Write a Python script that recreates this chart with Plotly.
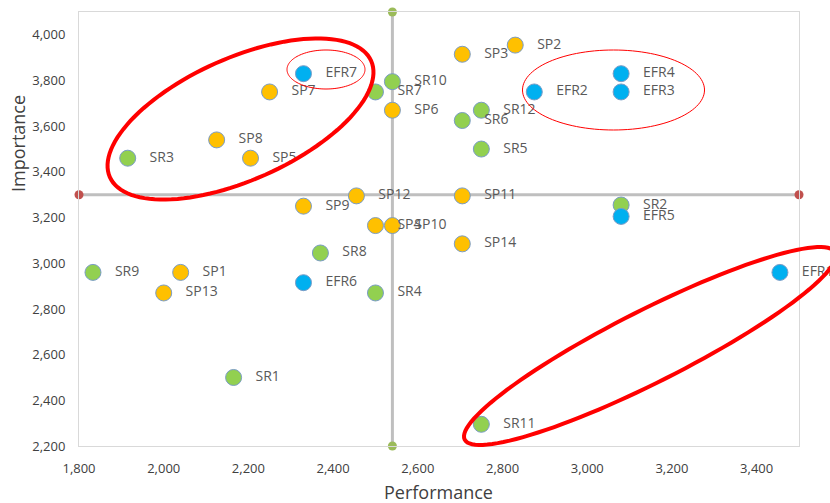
import math
import plotly.graph_objects as go

# ---- data -------------------------------------------------------------
sp_names = ["SP1", "SP2", "SP3", "SP4", "SP5", "SP6", "SP7", "SP8", "SP9",
            "SP10", "SP11", "SP12", "SP13", "SP14"]
sp_perf = [2040, 2830, 2705, 2500, 2205, 2540, 2250, 2125, 2330,
           2540, 2705, 2455, 2000, 2705]
sp_imp = [2960, 3955, 3915, 3165, 3460, 3670, 3750, 3540, 3250,
          3165, 3295, 3295, 2870, 3085]

sr_names = ["SR1", "SR2", "SR3", "SR4", "SR5", "SR6", "SR7", "SR8", "SR9",
            "SR10", "SR11", "SR12"]
sr_perf = [2165, 3080, 1915, 2500, 2750, 2705, 2500, 2370, 1833,
           2540, 2750, 2750]
sr_imp = [2500, 3255, 3460, 2870, 3500, 3625, 3750, 3045, 2960,
          3795, 2295, 3670]

efr_names = ["EFR1", "EFR2", "EFR3", "EFR4", "EFR5", "EFR6", "EFR7"]
efr_perf = [3455, 2875, 3080, 3080, 3080, 2330, 2330]
efr_imp = [2960, 3750, 3750, 3830, 3205, 2915, 3830]

# quadrant split and axis extents
perf_split = 2540
imp_split = 3300
perf_range = [1800, 3500]
imp_range = [2200, 4100]

x_ticks = [1800, 2000, 2200, 2400, 2600, 2800, 3000, 3200, 3400]
y_ticks = [2200, 2400, 2600, 2800, 3000, 3200, 3400, 3600, 3800, 4000]

# ---- layout geometry ---------------------------------------------------
W, H = 830, 503
ML, MR, MT, MB = 79, 31, 12, 57
PW, PH = W - ML - MR, H - MT - MB

FONT = "Open Sans, Noto Sans, sans-serif"
LABEL_COLOR = "#595959"

fig = go.Figure()

# quadrant dividers
fig.add_trace(go.Scatter(
    x=perf_range, y=[imp_split, imp_split], mode="lines+markers",
    line=dict(color="#BFBFBF", width=3),
    marker=dict(color="#C0504D", size=9),
    cliponaxis=False, hoverinfo="skip", showlegend=False))
fig.add_trace(go.Scatter(
    x=[perf_split, perf_split], y=imp_range, mode="lines+markers",
    line=dict(color="#BFBFBF", width=3),
    marker=dict(color="#9BBB59", size=9),
    cliponaxis=False, hoverinfo="skip", showlegend=False))

pad = "\u00a0\u00a0\u00a0"


def add_group(names, xs, ys, color):
    fig.add_trace(go.Scatter(
        x=xs, y=ys, mode="markers+text",
        text=[pad + n for n in names], textposition="middle right",
        textfont=dict(family=FONT, size=14, color=LABEL_COLOR),
        marker=dict(color=color, size=16,
                    line=dict(color="#7A9CC6", width=1)),
        cliponaxis=False, showlegend=False))


add_group(sp_names, sp_perf, sp_imp, "#FFC000")
add_group(sr_names, sr_perf, sr_imp, "#92D050")
add_group(efr_names, efr_perf, efr_imp, "#00B0F0")


# hand-drawn style highlight ellipses (pixel geometry -> paper coords)
def ellipse_path(cx, cy, a, b, deg, n=120):
    t = math.radians(deg)
    pts = []
    for i in range(n + 1):
        u = 2 * math.pi * i / n
        px = cx + a * math.cos(u) * math.cos(t) + b * math.sin(u) * math.sin(t)
        py = cy - a * math.cos(u) * math.sin(t) + b * math.sin(u) * math.cos(t)
        pts.append(((px - ML) / PW, (MT + PH - py) / PH))
    d = "M " + " L ".join(f"{x:.5f},{y:.5f}" for x, y in pts) + " Z"
    return d


highlights = [
    (240.5, 119, 143, 61, 24, 4),
    (326, 69.5, 39, 19.5, 0, 1),
    (613.5, 90, 91, 40, 0, 1),
    (650, 346, 207.6, 36, 26.8, 4),
]
for cx, cy, a, b, deg, w in highlights:
    fig.add_shape(type="path", path=ellipse_path(cx, cy, a, b, deg),
                  xref="paper", yref="paper",
                  line=dict(color="#FF0000", width=w))

# axis titles
fig.add_annotation(text="Performance", xref="paper", yref="paper",
                   x=(438 - ML) / PW, y=(MT + PH - 492) / PH,
                   xanchor="center", yanchor="middle", showarrow=False,
                   font=dict(family=FONT, size=18, color="#404040"))
fig.add_annotation(text="Importance", xref="paper", yref="paper",
                   x=(18 - ML) / PW, y=(MT + PH - 144) / PH, textangle=-90,
                   xanchor="center", yanchor="middle", showarrow=False,
                   font=dict(family=FONT, size=18, color="#404040"))

axis_common = dict(showgrid=False, zeroline=False, showline=True,
                   linecolor="#D9D9D9", linewidth=1, mirror=True,
                   ticks="", tickformat=",",
                   tickfont=dict(family=FONT, size=13, color="#404040"))

fig.update_xaxes(range=perf_range, tickvals=x_ticks, ticklabelstandoff=10,
                 **axis_common)
fig.update_yaxes(range=imp_range, tickvals=y_ticks, ticklabelstandoff=10,
                 **axis_common)

fig.update_layout(
    width=W, height=H,
    margin=dict(l=ML, r=MR, t=MT, b=MB),
    paper_bgcolor="white", plot_bgcolor="white",
    font=dict(family=FONT),
)

fig.write_html("out.html")
